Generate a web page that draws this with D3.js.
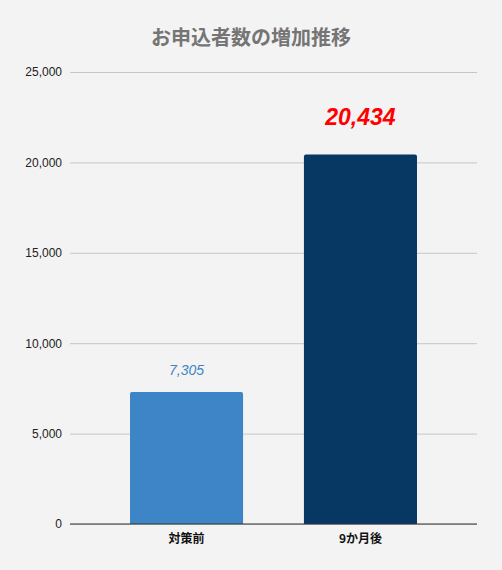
<!DOCTYPE html>
<html>
<head>
<meta charset="utf-8">
<script src="https://cdn.jsdelivr.net/npm/d3@7"></script>
<style>
  body { margin: 0; background: #f3f3f3; }
  svg { display: block; font-family: Arial, "Liberation Sans", "Noto Sans CJK JP", sans-serif; }
</style>
</head>
<body>
<div id="chart"></div>
<script>
var categories = ["対策前", "9か月後"];
var values = [7305, 20434];
var yTicks = [0, 5000, 10000, 15000, 20000, 25000];
var barColors = ["#3d85c6", "#073763"];

var W = 502, H = 570;
var margin = {top: 72, right: 25, bottom: 46, left: 70},
    width = W - margin.left - margin.right,
    height = H - margin.top - margin.bottom;

var svg = d3.select("#chart").append("svg")
  .attr("width", W)
  .attr("height", H);

svg.append("rect").attr("width", W).attr("height", H).attr("fill", "#f3f3f3");

// title
svg.append("text")
  .attr("x", 251)
  .attr("y", 45)
  .attr("text-anchor", "middle")
  .style("font-family", "'Noto Sans CJK JP', sans-serif")
  .style("font-weight", "bold")
  .style("font-size", "20px")
  .style("fill", "#757575")
  .text("お申込者数の増加推移");

var g = svg.append("g")
  .attr("transform", "translate(" + margin.left + "," + margin.top + ")");

var x = d3.scaleBand()
  .domain(categories)
  .range([0, width])
  .paddingInner(0.35)
  .paddingOuter(0.345);

var y = d3.scaleLinear()
  .domain([0, 25000])
  .range([height, 0]);

// gridlines + y labels
var yAxis = g.append("g")
  .call(d3.axisLeft(y).tickValues(yTicks).tickSize(-width).tickPadding(8)
    .tickFormat(d3.format(",")));
yAxis.select(".domain").remove();
yAxis.selectAll(".tick line").attr("stroke", "#c6c6c6");
yAxis.selectAll(".tick text")
  .style("font-size", "12px")
  .style("fill", "#222")
  .style("font-family", "Arial, 'Liberation Sans', sans-serif");

// bars with slightly rounded top corners
var r = 2;
g.selectAll(".bar")
  .data(values)
  .enter()
  .append("path")
  .attr("class", "bar")
  .attr("fill", function(d, i) { return barColors[i]; })
  .attr("d", function(d, i) {
    var x0 = x(categories[i]), x1 = x0 + x.bandwidth();
    var y0 = y(d), y1 = y(0);
    return "M" + x0 + "," + y1 + "V" + (y0 + r) + "Q" + x0 + "," + y0 + " " + (x0 + r) + "," + y0 +
      "H" + (x1 - r) + "Q" + x1 + "," + y0 + " " + x1 + "," + (y0 + r) + "V" + y1 + "Z";
  });

// baseline
g.append("line")
  .attr("x1", 0).attr("x2", width)
  .attr("y1", y(0)).attr("y2", y(0))
  .attr("stroke", "#333").attr("stroke-width", 1);

// category labels
g.selectAll(".cat")
  .data(categories)
  .enter()
  .append("text")
  .attr("x", function(d) { return x(d) + x.bandwidth() / 2; })
  .attr("y", height + 19)
  .attr("text-anchor", "middle")
  .style("font-family", "'Noto Sans CJK JP', sans-serif")
  .style("font-weight", "bold")
  .style("font-size", "12px")
  .style("fill", "#111")
  .text(function(d) { return d; });

// value labels
g.append("text")
  .attr("x", x(categories[0]) + x.bandwidth() / 2)
  .attr("y", y(values[0]) - 17)
  .attr("text-anchor", "middle")
  .style("font-style", "italic")
  .style("font-size", "14px")
  .style("fill", "#3d85c6")
  .text(d3.format(",")(values[0]));

g.append("text")
  .attr("x", x(categories[1]) + x.bandwidth() / 2)
  .attr("y", y(values[1]) - 30)
  .attr("text-anchor", "middle")
  .style("font-style", "italic")
  .style("font-weight", "bold")
  .style("font-size", "23px")
  .style("fill", "#ff0000")
  .text(d3.format(",")(values[1]));
</script>
</body>
</html>
